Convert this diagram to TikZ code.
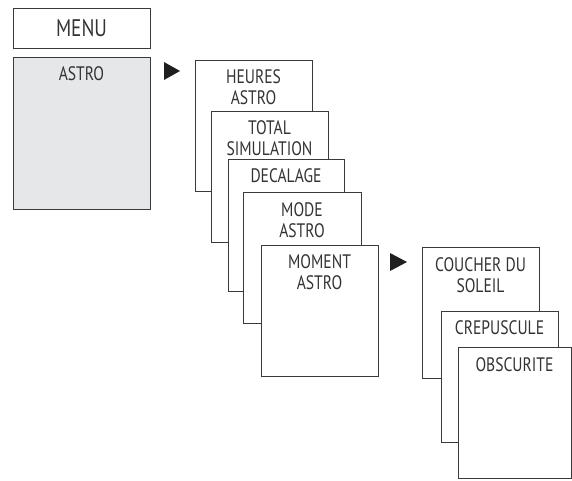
\documentclass[tikz,border=0pt]{standalone}
\usepackage{fontspec}
\setmainfont[FakeStretch=0.8]{PT Sans}
\definecolor{ink}{HTML}{333333}
\definecolor{boxline}{HTML}{3A3A3A}
\definecolor{astrofill}{HTML}{E6E7E9}
\begin{document}
\begin{tikzpicture}[x=1pt,y=-1pt,
  box/.style={draw=boxline, line width=1pt, fill=white},
  lbl/.style={text=ink, font=\fontsize{19.5}{21}\selectfont, align=center, inner sep=0pt, anchor=north},
  tri/.style={fill=black!88, draw=none}]
\useasboundingbox (0,0) rectangle (572,480);
% MENU
\draw[box] (13,8) rectangle (150,48);
\node[text=ink, font=\fontsize{24}{26}\selectfont, inner sep=0pt] (menu) at (81.5,28) {MENU};
% ASTRO
\draw[box, fill=astrofill] (13,57) rectangle (150,209);
\node[lbl] (astro) at (81.5,66) {ASTRO};
% arrow 1
\fill[tri] (164,62) -- (164,80) -- (180,71) -- cycle;
% stack 1
\draw[box] (195,60) rectangle (312,191);
\node[lbl] (heures) at (253.5,69.5) {HEURES\\ASTRO};
\draw[box] (211,111) rectangle (328,242);
\node[lbl] (total) at (269.5,120.5) {TOTAL\\SIMULATION};
\draw[box] (228,159) rectangle (344,291);
\node[lbl] (decalage) at (286,168.5) {DECALAGE};
\draw[box] (243,192) rectangle (361,323);
\node[lbl] (mode) at (302,202) {MODE\\ASTRO};
\draw[box] (261,245) rectangle (378,376);
\node[lbl] (moment) at (319.5,254.5) {MOMENT\\ASTRO};
% arrow 2
\fill[tri] (390,253) -- (390,271) -- (407,262) -- cycle;
% stack 2
\draw[box] (422,247) rectangle (539,378);
\node[lbl] (coucher) at (480.5,257.5) {COUCHER DU\\SOLEIL};
\draw[box] (441,311) rectangle (558,442);
\node[lbl] (crepuscule) at (499.5,320.5) {CREPUSCULE};
\draw[box] (458,347) rectangle (571,478);
\node[lbl] (obscurite) at (514.5,357) {OBSCURITE};
\end{tikzpicture}
\end{document}
